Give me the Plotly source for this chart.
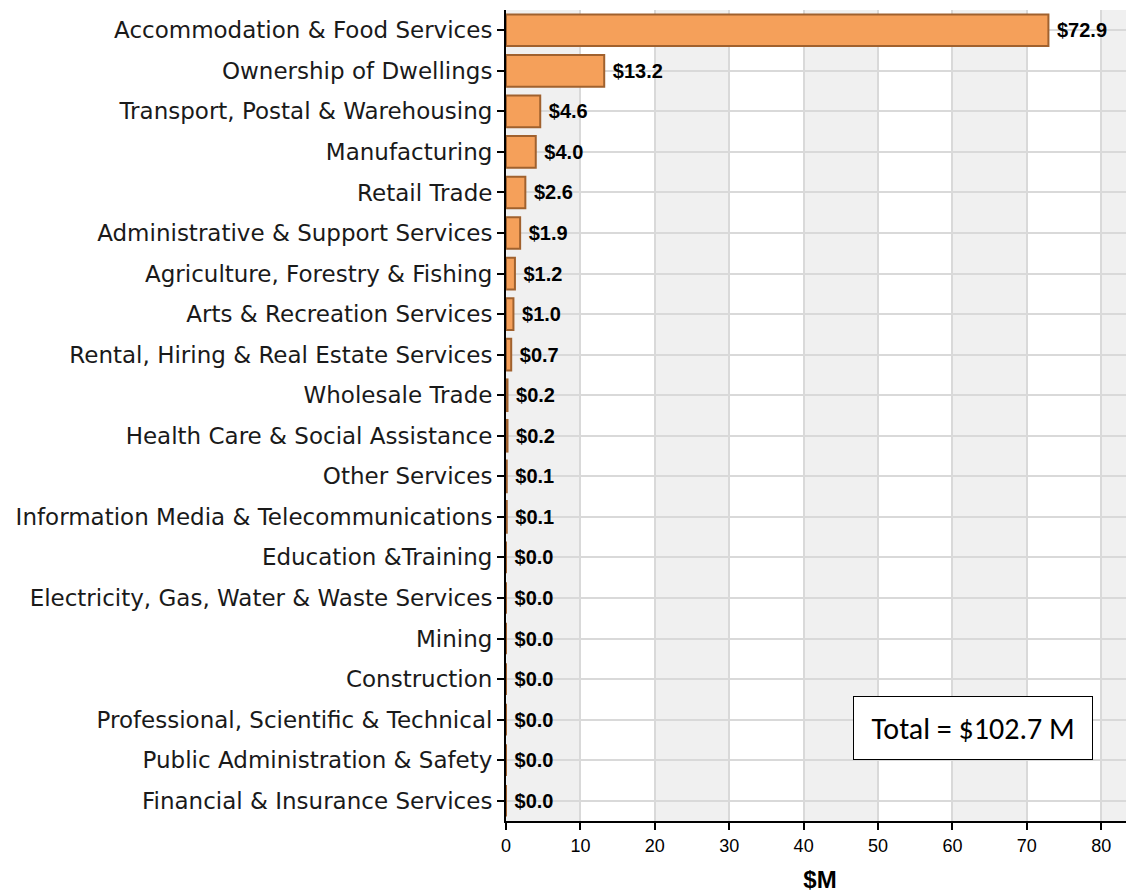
import plotly.graph_objects as go

categories = [
    "Accommodation & Food Services",
    "Ownership of Dwellings",
    "Transport, Postal & Warehousing",
    "Manufacturing",
    "Retail Trade",
    "Administrative & Support Services",
    "Agriculture, Forestry & Fishing",
    "Arts & Recreation Services",
    "Rental, Hiring & Real Estate Services",
    "Wholesale Trade",
    "Health Care & Social Assistance",
    "Other Services",
    "Information Media & Telecommunications",
    "Education &Training",
    "Electricity, Gas, Water & Waste Services",
    "Mining",
    "Construction",
    "Professional, Scientific & Technical",
    "Public Administration & Safety",
    "Financial & Insurance Services",
]
values = [72.9, 13.2, 4.6, 4.0, 2.6, 1.9, 1.2, 1.0, 0.7, 0.2, 0.2, 0.1, 0.1,
          0.0, 0.0, 0.0, 0.0, 0.0, 0.0, 0.0]
total_label = "Total = $102.7 M"
x_ticks = [0, 10, 20, 30, 40, 50, 60, 70, 80]
x_max = 84.4

labels = [" $%.1f" % v for v in values]

fig = go.Figure()
fig.add_trace(go.Bar(
    y=categories, x=values, orientation="h",
    marker=dict(color="#F5A05A", line=dict(color="#A0612E", width=2)),
    width=0.78,
    text=labels, textposition="outside", cliponaxis=False,
    textfont=dict(family="Liberation Sans", size=20, color="#000000"),
    texttemplate="<b>%{text}</b>",
))

shapes = []
for i in range(0, 9, 2):
    x0 = x_ticks[i]
    x1 = min(x0 + 10, x_max)
    shapes.append(dict(type="rect", xref="x", yref="paper", x0=x0, x1=x1, y0=0, y1=1,
                       fillcolor="#F0F0F0", line=dict(width=0), layer="below"))

fig.update_layout(
    width=1134, height=894,
    margin=dict(l=498, r=8, t=2, b=81),
    plot_bgcolor="rgba(0,0,0,0)", paper_bgcolor="white",
    showlegend=False,
    shapes=shapes,
    annotations=[dict(
        x=0.7436, y=0.1147, xref="paper", yref="paper", xanchor="center", yanchor="middle",
        text=total_label, showarrow=False,
        width=210, height=34, align="center",
        font=dict(family="Carlito, Liberation Sans", size=30, color="#000000"),
        bordercolor="#000000", borderwidth=1, borderpad=14, bgcolor="white",
    )],
)
fig.update_yaxes(
    categoryorder="array", categoryarray=categories,
    range=[19.5, -0.5], automargin=False,
    showgrid=True, gridcolor="#D9D9D9", gridwidth=2,
    showline=True, linecolor="#000000", linewidth=2,
    ticks="outside", ticklen=7, tickcolor="#000000", tickwidth=2,
    tickfont=dict(family="DejaVu Sans", size=23, color="#1a1a1a"),
)
fig.update_xaxes(
    range=[0, x_max], tickvals=x_ticks, automargin=False,
    showgrid=True, gridcolor="#D9D9D9", gridwidth=2,
    showline=True, linecolor="#000000", linewidth=2,
    ticks="outside", ticklen=7, tickcolor="#000000", tickwidth=2,
    tickfont=dict(family="Liberation Sans Narrow, Liberation Sans", size=18, color="#000000"),
    title=dict(text="<b>$M</b>", font=dict(family="Liberation Sans Narrow, Liberation Sans", size=24, color="#000000"), standoff=17),
    zeroline=False,
)

fig.write_html("out.html")
